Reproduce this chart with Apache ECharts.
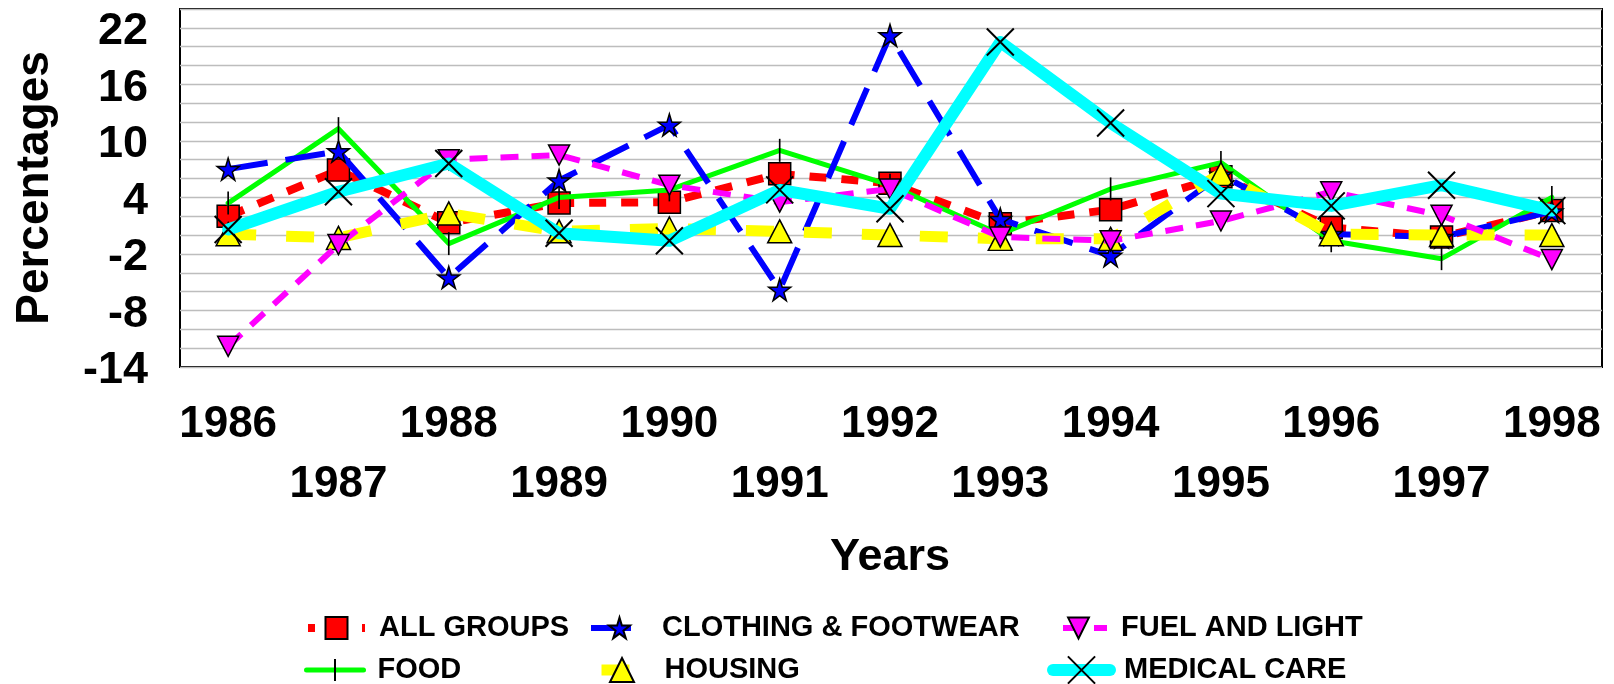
<!DOCTYPE html>
<html>
<head>
<meta charset="utf-8">
<script src="https://cdn.jsdelivr.net/npm/echarts@6/dist/echarts.min.js"></script>
<style>
  html, body { margin: 0; padding: 0; background: #ffffff; }
  #chart { width: 1614px; height: 684px; }
</style>
</head>
<body>
<div id="chart"></div>
<script>
  var years = ['1986', '1987', '1988', '1989', '1990', '1991', '1992', '1993', '1994', '1995', '1996', '1997', '1998'];
  var allGroups = [2.0, 6.9, 1.3, 3.4, 3.5, 6.5, 5.5, 1.2, 2.7, 6.2, 0.8, -0.2, 2.6];
  var food = [3.4, 11.3, -0.9, 4.0, 4.8, 9.0, 5.3, 0.1, 4.9, 7.7, -0.6, -2.5, 4.0];
  var clothing = [7.0, 8.9, -4.5, 5.8, 11.7, -5.8, 21.2, 1.7, -2.2, 6.4, 0.1, -0.2, 2.5];
  var housing = [0.1, -0.3, 2.3, 0.4, 0.7, 0.4, 0.0, -0.4, -0.4, 6.5, 0.1, 0.0, 0.0];
  var fuel = [-11.8, -1.0, 8.0, 8.5, 5.3, 3.5, 4.9, -0.2, -0.6, 1.5, 4.6, 2.1, -2.6];
  var medical = [0.6, 4.6, 7.6, 0.2, -0.6, 4.8, 2.8, 20.5, 11.9, 4.4, 3.1, 5.3, 2.6];
  var yTicks = [22, 16, 10, 4, -2, -8, -14];

  var FONT = '"Liberation Sans", Arial, sans-serif';
  var STAR = 'path://M50,0 L61,35 L98,35 L68,57 L79,91 L50,70 L21,91 L32,57 L2,35 L39,35 Z';
  var DOWN = 'path://M0,0 L10,0 L5,10 Z';
  var VBAR = 'path://M0,0 M10,0 M5,0 L5,20 M0,20 M10,20';
  var CROSS = 'path://M0,0 L10,10 M10,0 L0,10';

  var myChart = echarts.init(document.getElementById('chart'));

  // one legend per entry so each can sit where the original put it
  function legendAt(name, left, top, itemHeight, dashOffset) {
    return {
      data: [name],
      left: left,
      top: top,
      itemWidth: 57,
      itemHeight: itemHeight,
      selectedMode: false,
      padding: 0,
      lineStyle: {width: 'inherit', dashOffset: dashOffset || 0},
      textStyle: {
        fontFamily: FONT, fontSize: 29, fontWeight: 'bold', color: '#000',
        lineHeight: 34, padding: [0, 0, 0, 9]
      }
    };
  }

  var option = {
    animation: false,
    backgroundColor: '#fff',
    grid: [
      // frame, gridlines and y labels
      {left: 180, top: 9, right: 12, bottom: 317, containLabel: false, outerBoundsMode: 'none',
        show: true, borderColor: '#000', borderWidth: 2, backgroundColor: 'transparent'},
      // data area (categories spaced like the original)
      {left: 173, top: 9, right: 7, bottom: 317, containLabel: false, outerBoundsMode: 'none'}
    ],
    legend: [
      legendAt('ALL GROUPS', 304, 611, 27.5, 10),
      legendAt('CLOTHING & FOOTWEAR', 588, 611, 26, 0),
      legendAt('FUEL AND LIGHT', 1047, 611, 26, 18),
      legendAt('FOOD', 304, 653, 27.5, 0),
      legendAt('HOUSING', 588, 653, 30, 50),
      legendAt('MEDICAL CARE', 1047, 653, 34, 0)
    ],
    xAxis: [
      {gridIndex: 0, type: 'category', data: years, show: false},
      {
        gridIndex: 1,
        type: 'category',
        data: years,
        boundaryGap: true,
        name: 'Years',
        nameLocation: 'middle',
        nameGap: 168,
        nameTextStyle: {fontFamily: FONT, fontSize: 45, fontWeight: 'bold', color: '#000'},
        axisLine: {show: false},
        axisTick: {show: false},
        splitLine: {show: false},
        axisLabel: {
          interval: 0,
          margin: 28,
          fontFamily: FONT, fontSize: 44, fontWeight: 'bold', color: '#000',
          lineHeight: 60,
          formatter: function (v, i) { return i % 2 === 0 ? v : '\n' + v; }
        }
      }
    ],
    yAxis: [
      {
        gridIndex: 0,
        type: 'value',
        min: -14,
        max: 24,
        interval: 2,
        name: 'Percentages',
        nameLocation: 'middle',
        nameGap: 122,
        nameRotate: 90,
        nameTextStyle: {fontFamily: FONT, fontSize: 46, fontWeight: 'bold', color: '#000'},
        axisLine: {show: false},
        axisTick: {show: false},
        splitLine: {lineStyle: {color: '#bdbdbd', width: 1.3}},
        axisLabel: {
          margin: 32,
          formatter: function (v) { return yTicks.indexOf(v) >= 0 ? '{t|' + v + '}' : ''; },
          rich: {
            t: {
              fontFamily: FONT, fontSize: 45, fontWeight: 'bold', color: '#000',
              padding: [8, 0, 0, 0]
            }
          }
        }
      },
      {gridIndex: 1, type: 'value', min: -14, max: 24, interval: 2, show: false, splitLine: {show: false}}
    ],
    series: [
      {
        name: 'ALL GROUPS', type: 'line', data: allGroups, z: 2, xAxisIndex: 1, yAxisIndex: 1,
        symbol: 'rect', symbolSize: 22,
        lineStyle: {color: '#ff0000', width: 8, type: [17, 15]},
        itemStyle: {color: '#ff0000', borderColor: '#000', borderWidth: 1.5}
      },
      {
        name: 'FOOD', type: 'line', data: food, z: 3, xAxisIndex: 1, yAxisIndex: 1,
        symbol: VBAR, symbolSize: [10, 23],
        lineStyle: {color: '#00ff00', width: 5, cap: 'round', join: 'round'},
        itemStyle: {color: '#000', borderColor: '#000', borderWidth: 2.5}
      },
      {
        name: 'CLOTHING & FOOTWEAR', type: 'line', data: clothing, z: 4, xAxisIndex: 1, yAxisIndex: 1,
        symbol: STAR, symbolSize: 22,
        lineStyle: {color: '#0000ff', width: 6, type: [40, 18]},
        itemStyle: {color: '#0000ff', borderColor: '#000', borderWidth: 1.5}
      },
      {
        name: 'HOUSING', type: 'line', data: housing, z: 5, xAxisIndex: 1, yAxisIndex: 1,
        symbol: 'triangle', symbolSize: [24, 23],
        lineStyle: {color: '#ffff00', width: 11, type: [28, 30]},
        itemStyle: {color: '#ffff00', borderColor: '#000', borderWidth: 1.5}
      },
      {
        name: 'FUEL AND LIGHT', type: 'line', data: fuel, z: 6, xAxisIndex: 1, yAxisIndex: 1,
        symbol: DOWN, symbolSize: [21, 20],
        lineStyle: {color: '#ff00ff', width: 6, type: [18, 13]},
        itemStyle: {color: '#ff00ff', borderColor: '#000', borderWidth: 1.5}
      },
      {
        name: 'MEDICAL CARE', type: 'line', data: medical, z: 7, xAxisIndex: 1, yAxisIndex: 1,
        symbol: CROSS, symbolSize: 27,
        lineStyle: {color: '#00ffff', width: 12, cap: 'round', join: 'round'},
        itemStyle: {color: '#000', borderColor: '#000', borderWidth: 2}
      }
    ]
  };
  myChart.setOption(option);
</script>
</body>
</html>
